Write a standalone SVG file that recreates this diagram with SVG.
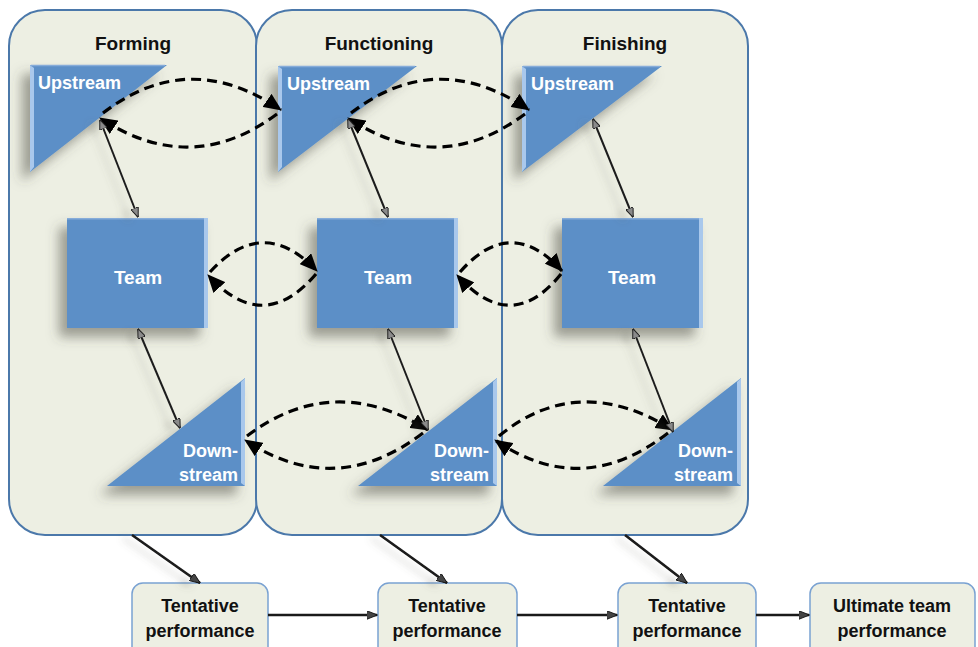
<svg xmlns="http://www.w3.org/2000/svg" width="978" height="647" viewBox="0 0 978 647">
  <defs>
    <filter id="shadow" x="-30%" y="-30%" width="160%" height="160%">
      <feDropShadow dx="-8" dy="9" stdDeviation="6" flood-color="#4a4a40" flood-opacity="0.5"/>
    </filter>
    <filter id="lineShadow" x="-50%" y="-50%" width="200%" height="200%">
      <feDropShadow dx="-9" dy="3" stdDeviation="3.5" flood-color="#6a6a60" flood-opacity="0.28"/>
    </filter>
    <marker id="bigHead" viewBox="0 0 18 16" refX="17" refY="8" markerWidth="18" markerHeight="16" markerUnits="userSpaceOnUse" orient="auto-start-reverse">
      <path d="M0,0 L18,8 L0,16 Z" fill="#000"/>
    </marker>
    <marker id="smallHead" viewBox="0 0 10 8" refX="9.5" refY="4" markerWidth="10" markerHeight="8" markerUnits="userSpaceOnUse" orient="auto-start-reverse">
      <path d="M0,0 L10,4 L0,8 Z" fill="#8a8a8a" stroke="#222" stroke-width="1"/>
    </marker>
    <marker id="flowHead" viewBox="0 0 10 8" refX="9.5" refY="4" markerWidth="11" markerHeight="9" markerUnits="userSpaceOnUse" orient="auto">
      <path d="M0,0 L10,4 L0,8 Z" fill="#444" stroke="#111" stroke-width="0.8"/>
    </marker>
  </defs>
  <style>
    .panel { fill: #edefe3; stroke: #4b78aa; stroke-width: 2; }
    .shape { fill: #5b8fc7; }
    .bevel { fill: #a9c8ec; }
    .edge { fill: none; stroke: #86acd9; stroke-width: 1.5; }
    .title { font-family: "Liberation Sans", Arial, sans-serif; font-weight: bold; font-size: 19px; fill: #111; text-anchor: middle; }
    .label { font-family: "Liberation Sans", Arial, sans-serif; font-weight: bold; fill: #fff; }
    .box { fill: #edefe3; stroke: #7aa2d2; stroke-width: 1.5; }
    .boxText { font-family: "Liberation Sans", Arial, sans-serif; font-weight: bold; font-size: 18px; fill: #111; text-anchor: middle; }
    .dash { fill: none; stroke: #000; stroke-width: 3.2; stroke-dasharray: 10 6; }
    .thin { fill: none; stroke: #1e1e1e; stroke-width: 2; marker-start: url(#smallHead); marker-end: url(#smallHead); }
    .flow { fill: none; stroke: #1a1a1a; stroke-width: 2.6; marker-end: url(#flowHead); }
  </style>

  <rect width="978" height="647" fill="#fff"/>

  <!-- stage panels -->
  <g id="panel-forming">
    <rect class="panel" x="9" y="10" width="248" height="525" rx="36"/>
    <text class="title" x="133" y="50">Forming</text>
  </g>
  <g id="panel-functioning">
    <rect class="panel" x="256" y="10" width="246" height="525" rx="36"/>
    <text class="title" x="379" y="50">Functioning</text>
  </g>
  <g id="panel-finishing">
    <rect class="panel" x="502" y="10" width="246" height="525" rx="36"/>
    <text class="title" x="625" y="50">Finishing</text>
  </g>

  <!-- upstream triangles -->
  <g id="upstream-forming">
    <path class="shape" d="M30,65 L167,65 L30,172 Z" filter="url(#shadow)"/>
    <path class="bevel" d="M30,65 L34,68 L34,167 L30,172 Z"/>
    <path class="edge" d="M31,65.5 L165,65.5"/>
    <text class="label" x="38" y="89" font-size="18">Upstream</text>
  </g>
  <g id="upstream-functioning">
    <path class="shape" d="M278,66 L417,66 L278,172 Z" filter="url(#shadow)"/>
    <path class="bevel" d="M278,66 L282,69 L282,167 L278,172 Z"/>
    <path class="edge" d="M279,66.5 L415,66.5"/>
    <text class="label" x="287" y="90" font-size="18">Upstream</text>
  </g>
  <g id="upstream-finishing">
    <path class="shape" d="M522,66 L662,66 L522,172 Z" filter="url(#shadow)"/>
    <path class="bevel" d="M522,66 L526,69 L526,167 L522,172 Z"/>
    <path class="edge" d="M523,66.5 L660,66.5"/>
    <text class="label" x="531" y="90" font-size="18">Upstream</text>
  </g>

  <!-- team boxes -->
  <g id="team-forming">
    <rect class="shape" x="67" y="218" width="141" height="110" filter="url(#shadow)"/>
    <rect class="bevel" x="204" y="218" width="4" height="110"/>
    <path class="edge" d="M67,218.8 L204,218.8"/>
    <text class="label" x="138" y="284" font-size="19" text-anchor="middle">Team</text>
  </g>
  <g id="team-functioning">
    <rect class="shape" x="317" y="218" width="141" height="110" filter="url(#shadow)"/>
    <rect class="bevel" x="454" y="218" width="4" height="110"/>
    <path class="edge" d="M317,218.8 L454,218.8"/>
    <text class="label" x="388" y="284" font-size="19" text-anchor="middle">Team</text>
  </g>
  <g id="team-finishing">
    <rect class="shape" x="562" y="218" width="141" height="110" filter="url(#shadow)"/>
    <rect class="bevel" x="699" y="218" width="4" height="110"/>
    <path class="edge" d="M562,218.8 L699,218.8"/>
    <text class="label" x="632" y="284" font-size="19" text-anchor="middle">Team</text>
  </g>

  <!-- downstream triangles -->
  <g id="downstream-forming">
    <path class="shape" d="M245,378 L245,486 L107,486 Z" filter="url(#shadow)"/>
    <path class="bevel" d="M245,378 L245,486 L241,483 L241,382 Z"/>
    <text class="label" x="238" y="457" font-size="18" text-anchor="end">Down-</text>
    <text class="label" x="238" y="481" font-size="18" text-anchor="end">stream</text>
  </g>
  <g id="downstream-functioning">
    <path class="shape" d="M497,378 L497,486 L358,486 Z" filter="url(#shadow)"/>
    <path class="bevel" d="M497,378 L497,486 L493,483 L493,382 Z"/>
    <text class="label" x="489" y="457" font-size="18" text-anchor="end">Down-</text>
    <text class="label" x="489" y="481" font-size="18" text-anchor="end">stream</text>
  </g>
  <g id="downstream-finishing">
    <path class="shape" d="M741,378 L741,486 L603,486 Z" filter="url(#shadow)"/>
    <path class="bevel" d="M741,378 L741,486 L737,483 L737,382 Z"/>
    <text class="label" x="733" y="457" font-size="18" text-anchor="end">Down-</text>
    <text class="label" x="733" y="481" font-size="18" text-anchor="end">stream</text>
  </g>

  <!-- performance boxes -->
  <g id="perf-forming">
    <rect class="box" x="132" y="583" width="136" height="75" rx="11"/>
    <text class="boxText" x="200" y="612">Tentative</text>
    <text class="boxText" x="200" y="637">performance</text>
  </g>
  <g id="perf-functioning">
    <rect class="box" x="378" y="583" width="139" height="75" rx="11"/>
    <text class="boxText" x="447" y="612">Tentative</text>
    <text class="boxText" x="447" y="637">performance</text>
  </g>
  <g id="perf-finishing">
    <rect class="box" x="618" y="583" width="138" height="75" rx="11"/>
    <text class="boxText" x="687" y="612">Tentative</text>
    <text class="boxText" x="687" y="637">performance</text>
  </g>
  <g id="perf-ultimate">
    <rect class="box" x="810" y="583" width="165" height="75" rx="11"/>
    <text class="boxText" x="892" y="612">Ultimate team</text>
    <text class="boxText" x="892" y="637">performance</text>
  </g>

  <!-- connectors -->
  <g id="connectors">
    <!-- upstream exchanges -->
    <path class="dash" d="M103,113 Q189,47 281,110" marker-end="url(#bigHead)"/>
    <path class="dash" d="M277,114 Q191,178 100,118" marker-end="url(#bigHead)"/>
    <path class="dash" d="M351,113 Q437,47 529,110" marker-end="url(#bigHead)"/>
    <path class="dash" d="M525,114 Q439,178 348,118" marker-end="url(#bigHead)"/>

    <!-- team exchanges -->
    <path class="dash" d="M210,272 Q263,214 317,271" marker-end="url(#bigHead)"/>
    <path class="dash" d="M316,274 Q263,336 208,275" marker-end="url(#bigHead)"/>
    <path class="dash" d="M460,272 Q511,214 562,271" marker-end="url(#bigHead)"/>
    <path class="dash" d="M561,274 Q511,336 457,275" marker-end="url(#bigHead)"/>

    <!-- downstream exchanges -->
    <path class="dash" d="M247,436 Q333,371 428,430" marker-end="url(#bigHead)"/>
    <path class="dash" d="M423,433 Q335,500 245,440" marker-end="url(#bigHead)"/>
    <path class="dash" d="M499,436 Q578,371 673,430" marker-end="url(#bigHead)"/>
    <path class="dash" d="M668,433 Q582,500 495,440" marker-end="url(#bigHead)"/>

    <!-- within-stage links -->
    <g filter="url(#lineShadow)">
      <path class="thin" d="M100,120 L138,217"/>
      <path class="thin" d="M138,329 L180,428"/>
      <path class="thin" d="M348,119 L388,217"/>
      <path class="thin" d="M388,329 L428,430"/>
      <path class="thin" d="M593,119 L633,217"/>
      <path class="thin" d="M633,329 L673,432"/>
    </g>

    <!-- stage outcomes -->
    <g filter="url(#lineShadow)">
      <path class="flow" d="M132,535 L200,583"/>
      <path class="flow" d="M380,535 L447,583"/>
      <path class="flow" d="M625,535 L687,583"/>
    </g>
    <path class="flow" d="M268,615 L377,615"/>
    <path class="flow" d="M517,615 L617,615"/>
    <path class="flow" d="M756,615 L809,615"/>
  </g>
</svg>
